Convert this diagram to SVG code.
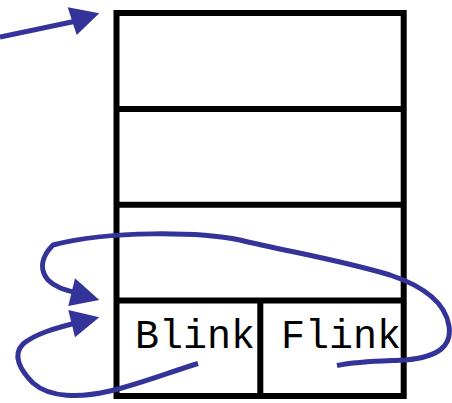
<svg xmlns="http://www.w3.org/2000/svg" width="452" height="403" viewBox="0 0 452 403">
  <style>
    .cell { fill: none; stroke: #000; stroke-width: 6; }
    .lbl { font-family: "Liberation Mono", "Courier New", monospace; font-size: 40px; fill: #000; }
    .link { fill: none; stroke: #333399; stroke-width: 5; stroke-linecap: butt; stroke-linejoin: round; }
    .head { fill: #333399; stroke: none; }
  </style>

  <g id="list-entry">
    <text class="lbl" x="135" y="347.5">Blink</text>
    <text class="lbl" x="281" y="347.5">Flink</text>
  </g>

  <g id="record">
    <rect class="cell" x="116.5" y="13" width="287.2" height="383"/>
    <line class="cell" x1="116.5" y1="109" x2="403.7" y2="109"/>
    <line class="cell" x1="116.5" y1="204.8" x2="403.7" y2="204.8"/>
    <line class="cell" x1="116.5" y1="300.6" x2="403.7" y2="300.6"/>
    <line class="cell" x1="260.3" y1="300.6" x2="260.3" y2="396"/>
  </g>

  <g id="connectors">
    <!-- incoming pointer -->
    <path class="link" d="M0,37 L74,21.5"/>
    <polygon class="head" points="99.3,13.3 67.7,7.3 76.7,35"/>

    <!-- Flink loop -->
    <path class="link" d="M337,365.5 C360,361 385,361 405,360 C440,357 452,345 449,326 C445,300 420,285 390,275 C340,260 290,252 240,240 C200,232 110,230 53,245 C43,255 38,268 48,280 C55,287 62,289 80,294"/>
    <polygon class="head" points="99.3,300 75,278.3 68.3,306"/>

    <!-- Blink loop -->
    <path class="link" d="M198,363.5 C170,372 140,384 110,391 C80,398 50,398 33,383 C20,370 12,355 23,344 C35,334 55,328 80,322"/>
    <polygon class="head" points="99.3,317.3 68.3,310 75,337.3"/>
  </g>
</svg>
